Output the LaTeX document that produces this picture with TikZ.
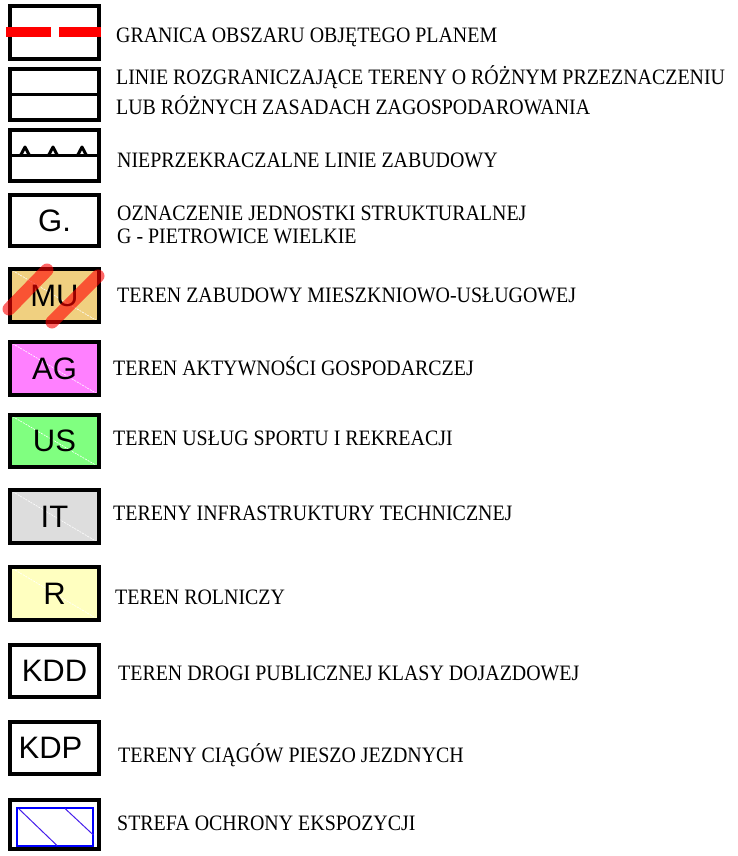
\documentclass[tikz,border=0pt]{standalone}
\usepackage{fontspec}
\setmainfont{Liberation Serif}[FakeStretch=0.905]
\newfontfamily\arialfont{Liberation Sans}
\usetikzlibrary{positioning}

\definecolor{mucolor}{RGB}{240,208,128}
\definecolor{agcolor}{RGB}{255,128,255}
\definecolor{uscolor}{RGB}{128,255,128}
\definecolor{itcolor}{RGB}{221,221,221}
\definecolor{rcolor}{RGB}{255,255,192}
\definecolor{hatchblue}{RGB}{70,30,235}

\begin{document}
\begin{tikzpicture}[x=1pt, y=-1pt,
  legbox/.style={draw=black, line width=3.6pt, minimum width=89pt, minimum height=52pt,
    inner sep=0pt, font=\arialfont\fontsize{31}{31}\selectfont},
  zone/.style={legbox, path picture={\draw[white, line width=0.6pt, dash pattern=on 2pt off 1pt]
    (path picture bounding box.north west) -- (path picture bounding box.south east);}},
  legtext/.style={anchor=base west, inner sep=0pt, font=\fontsize{22}{26}\selectfont}]

\useasboundingbox (0,0) rectangle (737,856);

% Linie
\node[legbox, minimum height=53pt] (granica) at (54.5,32.5) {};
\draw[red, line width=10pt] ([xshift=-2pt]granica.west) -- ++(45,0);
\draw[red, line width=10pt] (59,32.5) -- (granica.east);

\node[legbox, minimum height=51pt] (linie) at (54.5,94.5) {};
\draw[line width=3pt] (linie.west) -- (linie.east);

\node[legbox, minimum height=51pt] (zabudowa) at (54.5,155.5) {};
\draw[line width=3pt] (zabudowa.west) -- (zabudowa.east);
\foreach \x in {25,53,82}
\draw[line width=3pt, line join=round] (\x-4.5,155.5) -- (\x,147) -- (\x+4.5,155.5);

% Jednostka strukturalna
\node[legbox, minimum height=51pt] (jedn) at (54.5,220.5) {\raisebox{-3pt}{G.}};

% Tereny
\node[zone, fill=mucolor, minimum height=53pt] (mu) at (54.5,295.5) {\raisebox{-1pt}{MU}};
\draw[red, opacity=0.6, line width=13pt, line cap=round] (9,309) -- (47,270);
\draw[red, opacity=0.6, line width=13pt, line cap=round] (52,322) -- (98,276);

\node[zone, fill=agcolor, minimum height=53pt] (ag) at (54.5,368.5) {\raisebox{-2pt}{AG}};
\node[zone, fill=uscolor] (us) at (54.5,441) {\raisebox{-2pt}{US}};
\node[zone, fill=itcolor, minimum height=53pt] (it) at (54.5,516.5) {\raisebox{-2pt}{IT}};
\node[zone, fill=rcolor, minimum height=53pt] (r) at (54.5,593.5) {\raisebox{-2pt}{R}};

% Drogi
\node[legbox] (kdd) at (54.5,671) {\raisebox{-1pt}{KDD}};
\node[legbox] (kdp) at (54.5,748) {\hspace*{-8pt}KDP};

% Strefa ochrony ekspozycji
\node[legbox, minimum height=49pt] (strefa) at (54.5,824.5) {};
\node[draw=blue, line width=2.8pt, minimum width=76pt, minimum height=38pt, inner sep=0pt]
  (strefain) at (55,827) {};
\draw[hatchblue, line width=1pt] ([shift={(3,2)}]strefain.north west) -- (57,845.5);
\draw[hatchblue, line width=1pt] (65,808.5) -- ([shift={(-1,8)}]strefain.east);

% Opisy
\node[legtext] (t1) at (116,43) {GRANICA OBSZARU OBJĘTEGO PLANEM};
\node[legtext] (t2) at (116,85) {LINIE ROZGRANICZAJĄCE TERENY O RÓŻNYM PRZEZNACZENIU};
\node[legtext] (t2b) at (116,114) {LUB RÓŻNYCH ZASADACH ZAGOSPODAROWANIA};
\node[legtext] (t3) at (117,167) {NIEPRZEKRACZALNE LINIE ZABUDOWY};
\node[legtext] (t4) at (117,220) {OZNACZENIE JEDNOSTKI STRUKTURALNEJ};
\node[legtext] (t4b) at (117,243) {G - PIETROWICE WIELKIE};
\node[legtext] (t5) at (117,302) {TEREN ZABUDOWY MIESZKNIOWO-USŁUGOWEJ};
\node[legtext] (t6) at (113,375) {TEREN AKTYWNOŚCI GOSPODARCZEJ};
\node[legtext] (t7) at (113,445) {TEREN USŁUG SPORTU I REKREACJI};
\node[legtext] (t8) at (113,520) {TERENY INFRASTRUKTURY TECHNICZNEJ};
\node[legtext] (t9) at (115,604) {TEREN ROLNICZY};
\node[legtext] (t10) at (118,680) {TEREN DROGI PUBLICZNEJ KLASY DOJAZDOWEJ};
\node[legtext] (t11) at (118,762) {TERENY CIĄGÓW PIESZO JEZDNYCH};
\node[legtext] (t12) at (117,830) {STREFA OCHRONY EKSPOZYCJI};

\end{tikzpicture}
\end{document}
